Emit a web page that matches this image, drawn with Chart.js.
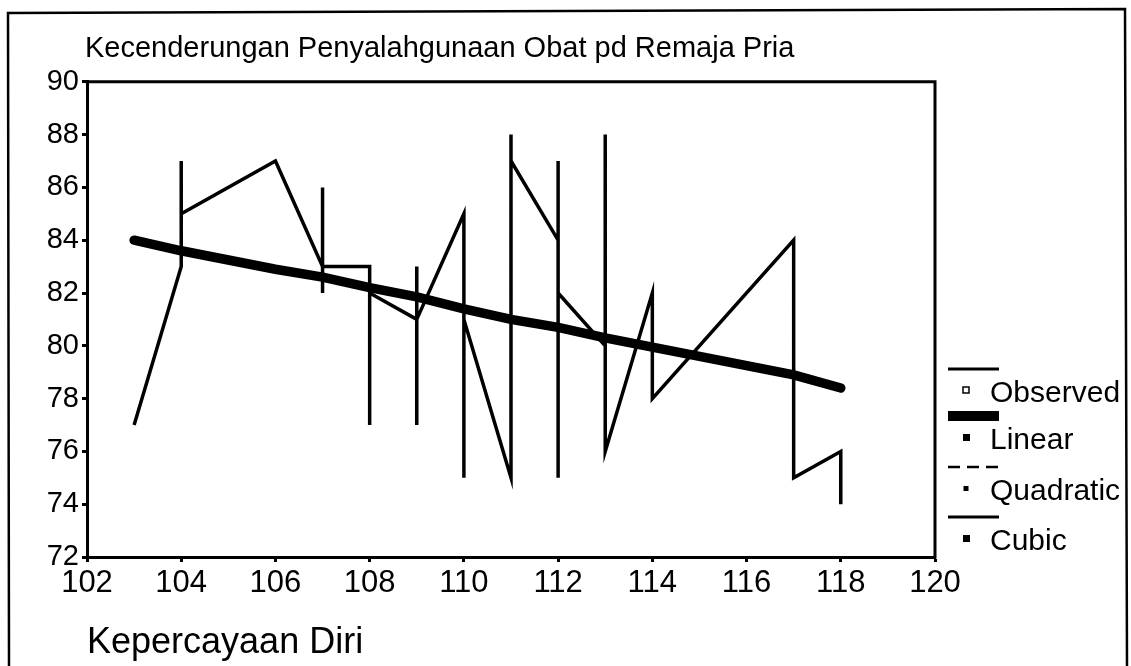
<!DOCTYPE html>
<html>
<head>
<meta charset="utf-8">
<script src="https://cdn.jsdelivr.net/npm/chart.js@4.4.1/dist/chart.umd.min.js"></script>
<style>
html,body{margin:0;padding:0;background:#fff;}
#wrap{width:1131px;height:666px;position:relative;overflow:hidden;}
</style>
</head>
<body>
<div id="wrap"><canvas id="c" width="1131" height="666"></canvas></div>
<script>
// ---- data ----
const chartTitle = 'Kecenderungan Penyalahgunaan Obat pd Remaja Pria';
const xAxisTitle = 'Kepercayaan Diri';
const xTickValues = [102, 104, 106, 108, 110, 112, 114, 116, 118, 120];
const yTickValues = [72, 74, 76, 78, 80, 82, 84, 86, 88, 90];
const seriesNames = ['Observed', 'Linear', 'Quadratic', 'Cubic'];

// observed scores, in x order (ties kept in their drawn order)
const observedX = [103, 104, 104, 104, 106, 107, 107, 107, 107, 108, 108, 108, 109, 109, 109, 109, 110, 110, 110, 111, 111, 111, 112, 112, 112, 112, 113, 113, 113, 114, 114, 117, 117, 118, 118];
const observedY = [77, 83, 87, 85, 87, 83, 86, 82, 83, 83, 77, 82, 81, 83, 77, 81, 85, 75, 81, 75, 88, 87, 84, 87, 75, 82, 80, 88, 76, 82, 78, 84, 75, 76, 74];

// fitted curves, read at each observed x
const fitX = [103, 104, 106, 107, 108, 109, 110, 111, 112, 113, 114, 117, 118];
const linearY = [84.0, 83.6, 82.9, 82.6, 82.2, 81.85, 81.4, 81.0, 80.7, 80.3, 79.95, 78.9, 78.4];
const quadraticY = [84.05, 83.65, 82.9, 82.55, 82.2, 81.8, 81.4, 81.0, 80.65, 80.3, 79.95, 78.9, 78.45];
const cubicY = [84.1, 83.6, 82.85, 82.55, 82.25, 81.85, 81.45, 81.05, 80.65, 80.25, 79.9, 78.95, 78.5];

// ---- build ----
const FONT = '"Liberation Sans", Arial, Helvetica, sans-serif';
const toPts = (xs, ys) => xs.map((x, i) => ({x: x, y: ys[i]}));

const datasets = [
  {label: seriesNames[0], data: toPts(observedX, observedY), borderColor: '#000', borderWidth: 3.5,
   pointRadius: 0, tension: 0, _marker: 'hollow', _legendWidth: 3},
  {label: seriesNames[1], data: toPts(fitX, linearY), borderColor: '#000', borderWidth: 9.5,
   pointRadius: 0, tension: 0, borderCapStyle: 'round', _marker: 'filled', _legendWidth: 10},
  {label: seriesNames[2], data: toPts(fitX, quadraticY), borderColor: '#000', borderWidth: 2.5,
   borderDash: [12, 7], pointRadius: 0, tension: 0, _marker: 'small', _legendWidth: 2.5},
  {label: seriesNames[3], data: toPts(fitX, cubicY), borderColor: '#000', borderWidth: 2.5,
   pointRadius: 0, tension: 0, _marker: 'filled', _legendWidth: 3}
];

const decor = {
  id: 'decor',
  afterLayout(chart) {
    // the title starts at the left edge of the plot box, not at the canvas edge
    if (chart.titleBlock) { chart.titleBlock.left = chart.chartArea.left - 2; }
  },
  afterDraw(chart) {
    const ctx = chart.ctx;
    const a = chart.chartArea;
    ctx.save();
    ctx.strokeStyle = '#000';
    ctx.lineCap = 'square';
    // outer frame of the figure
    ctx.lineWidth = 2.5;
    ctx.beginPath();
    ctx.moveTo(9, 666); ctx.lineTo(8, 13); ctx.lineTo(1125, 9); ctx.lineTo(1127, 666);
    ctx.stroke();
    // top and right edges of the plot box
    ctx.lineWidth = 3;
    ctx.beginPath();
    ctx.moveTo(a.left, a.top); ctx.lineTo(a.right, a.top); ctx.lineTo(a.right, a.bottom);
    ctx.stroke();
    // legend
    const lx0 = a.right + 13, lx1 = a.right + 64, mx = a.right + 31, tx = a.right + 55;
    const textY = [393, 440, 491, 541];
    ctx.font = '30px ' + FONT;
    ctx.textBaseline = 'middle';
    ctx.textAlign = 'left';
    ctx.fillStyle = '#000';
    chart.data.datasets.forEach((ds, i) => {
      const ly = textY[i] - 24;
      ctx.lineCap = 'butt';
      ctx.lineWidth = ds._legendWidth;
      ctx.setLineDash(ds.borderDash || []);
      ctx.beginPath(); ctx.moveTo(lx0, ly); ctx.lineTo(lx1, ly); ctx.stroke();
      ctx.setLineDash([]);
      const my = textY[i] - 3;
      if (ds._marker === 'hollow') {
        ctx.lineWidth = 1.5; ctx.strokeRect(mx - 3, my - 3, 6, 6);
      } else if (ds._marker === 'small') {
        ctx.fillRect(mx - 2.5, my - 2, 5, 5);
      } else {
        ctx.fillRect(mx - 3, my - 3, 7, 7);
      }
      ctx.fillText(ds.label, tx, textY[i] + 1);
    });
    ctx.restore();
  }
};

new Chart(document.getElementById('c'), {
  type: 'line',
  data: {datasets: datasets},
  plugins: [decor],
  options: {
    responsive: false,
    animation: false,
    devicePixelRatio: 1,
    layout: {padding: {left: 0, right: 196, top: 0, bottom: 0}},
    plugins: {
      legend: {display: false},
      tooltip: {enabled: false},
      title: {
        display: true, text: chartTitle, align: 'start', color: '#000',
        font: {family: FONT, size: 29, weight: 'normal'},
        padding: {top: 32, bottom: 15}
      }
    },
    scales: {
      x: {
        type: 'linear', min: 102, max: 120,
        afterBuildTicks: s => { s.ticks = xTickValues.map(v => ({value: v})); },
        afterFit: s => { s.height = 109; },
        ticks: {color: '#000', font: {family: FONT, size: 31}, padding: 3, maxRotation: 0, autoSkip: false},
        grid: {drawOnChartArea: false, drawTicks: true, tickLength: 5, tickWidth: 3, color: '#000'},
        border: {display: true, color: '#000', width: 3},
        title: {display: true, text: xAxisTitle, align: 'start', color: '#000',
                font: {family: FONT, size: 36, weight: 'normal'}, padding: {top: 0, bottom: 1}}
      },
      y: {
        type: 'linear', min: 72, max: 90,
        afterBuildTicks: s => { s.ticks = yTickValues.map(v => ({value: v})); },
        afterFit: s => { s.width = 87; },
        ticks: {color: '#000', font: {family: FONT, size: 29}, padding: 3, autoSkip: false},
        grid: {drawOnChartArea: false, drawTicks: true, tickLength: 5, tickWidth: 3, color: '#000'},
        border: {display: true, color: '#000', width: 3}
      }
    }
  }
});
</script>
</body>
</html>
